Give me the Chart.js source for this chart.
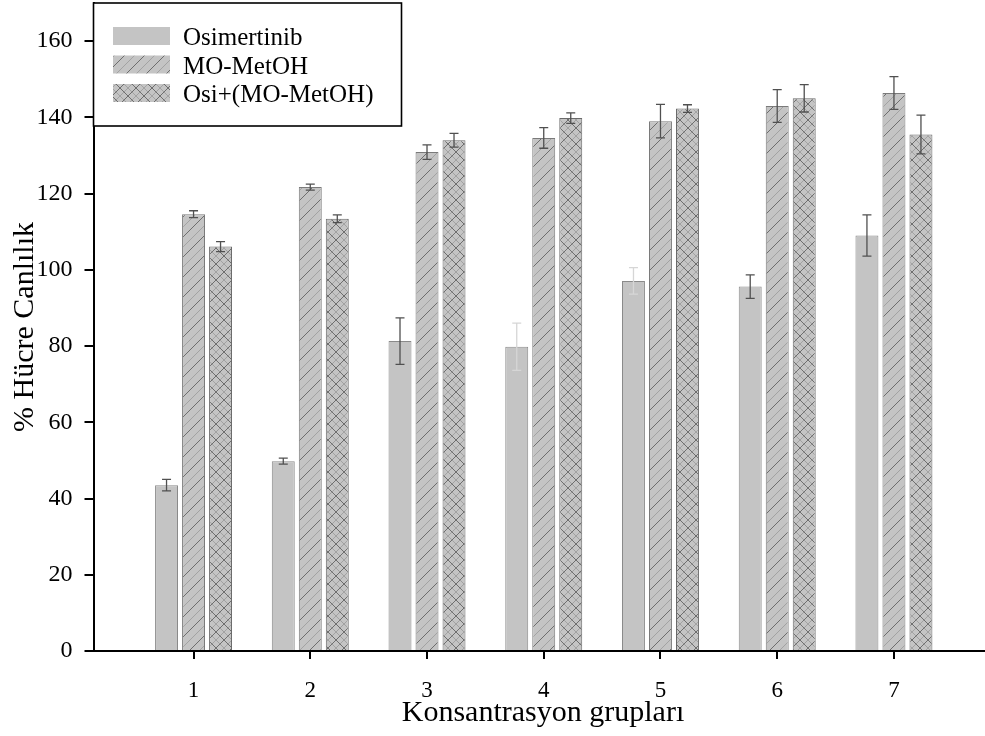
<!DOCTYPE html>
<html>
<head>
<meta charset="utf-8">
<script src="https://cdn.jsdelivr.net/npm/chart.js@4.4.1/dist/chart.umd.min.js"></script>
<style>
  html, body { margin: 0; padding: 0; background: #fff; }
  canvas { display: block; }
</style>
</head>
<body>
<canvas id="viabilityChart" width="985" height="736"></canvas>
<script>
// Group labels and positions on the x axis
const categories = ['1', '2', '3', '4', '5', '6', '7'];
const groupPositions = [1, 2, 3, 4, 5, 6, 7];
const yTicks = [0, 20, 40, 60, 80, 100, 120, 140, 160];

// Series values (% viability) and error bars
const seriesNames = ['Osimertinib', 'MO-MetOH', 'Osi+(MO-MetOH)'];
const osiValues = [43.5, 49.8, 81.3, 79.8, 97.1, 95.6, 109.0];
const osiErrors = [1.5, 0.8, 6.1, 6.2, 3.5, 3.1, 5.4];
const moValues = [114.6, 121.7, 130.9, 134.6, 139.0, 143.0, 146.4];
const moErrors = [0.9, 0.8, 1.9, 2.7, 4.4, 4.3, 4.3];
const comboValues = [106.1, 113.4, 134.0, 139.8, 142.3, 145.0, 135.5];
const comboErrors = [1.3, 1.0, 1.8, 1.4, 1.0, 3.6, 5.1];

const FONT = "'Liberation Serif', 'Times New Roman', serif";

// Build hatch fills like the original plot
function makePattern(kind) {
    const s = kind === 'cross' ? 16 : 20;
    const c = document.createElement('canvas');
    c.width = s;
    c.height = s;
    const ctx = c.getContext('2d');
    ctx.fillStyle = '#c4c4c4';
    ctx.fillRect(0, 0, s, s);
    if (kind === 'solid') return ctx.createPattern(c, 'repeat');

    function diag(up, offset, color) {
        ctx.strokeStyle = color;
        ctx.lineWidth = 1;
        ctx.beginPath();
        for (let k = -1; k <= 1; k++) {
            const o = offset + k * s;
            if (up) {
                ctx.moveTo(o, s);
                ctx.lineTo(o + s, 0);
            } else {
                ctx.moveTo(o, 0);
                ctx.lineTo(o + s, s);
            }
        }
        ctx.stroke();
    }
    diag(true, 0, '#6e6e6e');
    diag(true, s / 2, '#a2a2a2');
    if (kind === 'cross') {
        diag(false, 0, '#6e6e6e');
        diag(false, s / 2, '#a2a2a2');
    }
    return ctx.createPattern(c, 'repeat');
}

const fills = [makePattern('solid'), makePattern('diag'), makePattern('cross')];
const borders = ['#8a8a8a', '#7a7a7a', '#6a6a6a'];
const errorSets = [osiErrors, moErrors, comboErrors];

function points(values) {
    return values.map((v, i) => ({ x: groupPositions[i], y: v }));
}

// Error bars with caps
const errorBarPlugin = {
    id: 'errorBars',
    afterDatasetsDraw(chart) {
        const ctx = chart.ctx;
        const yScale = chart.scales.y;
        ctx.save();
        chart.data.datasets.forEach((ds, di) => {
            const meta = chart.getDatasetMeta(di);
            const errs = errorSets[di];
            meta.data.forEach((bar, i) => {
                const v = ds.data[i].y;
                const yTop = yScale.getPixelForValue(v + errs[i]);
                const yBot = yScale.getPixelForValue(v - errs[i]);
                const faint = di === 0 && (i === 3 || i === 4);
                ctx.strokeStyle = faint ? '#d6d6d6' : '#505050';
                ctx.lineWidth = 1.3;
                ctx.beginPath();
                ctx.moveTo(bar.x, yTop);
                ctx.lineTo(bar.x, yBot);
                ctx.moveTo(bar.x - 4.5, yTop);
                ctx.lineTo(bar.x + 4.5, yTop);
                ctx.moveTo(bar.x - 4.5, yBot);
                ctx.lineTo(bar.x + 4.5, yBot);
                ctx.stroke();
            });
        });
        ctx.restore();
    }
};

// Boxed legend in the upper left and axis titles
const legendAndTitles = {
    id: 'legendAndTitles',
    afterDraw(chart) {
        const ctx = chart.ctx;
        const area = chart.chartArea;
        ctx.save();

        const bx = area.left, by = 3, bw = 308, bh = 123;
        ctx.fillStyle = '#fff';
        ctx.fillRect(bx, by, bw, bh);
        ctx.strokeStyle = '#000';
        ctx.lineWidth = 1.6;
        ctx.strokeRect(bx, by, bw, bh);

        ctx.font = '25px ' + FONT;
        ctx.textBaseline = 'alphabetic';
        ctx.textAlign = 'left';
        seriesNames.forEach((name, i) => {
            const ry = 27 + i * 28.5;
            ctx.fillStyle = fills[i];
            ctx.fillRect(113, ry, 57, 18);
            ctx.fillStyle = '#000';
            ctx.fillText(name, 183, ry + 18);
        });

        ctx.font = '30px ' + FONT;
        ctx.fillStyle = '#000';
        ctx.textAlign = 'center';
        ctx.textBaseline = 'alphabetic';
        ctx.fillText('Konsantrasyon grupları', 543, 721);

        ctx.translate(33, (area.top + area.bottom) / 2);
        ctx.rotate(-Math.PI / 2);
        ctx.fillText('% Hücre Canlılık', 0, 0);
        ctx.restore();
    }
};

new Chart(document.getElementById('viabilityChart'), {
    type: 'bar',
    data: {
        datasets: seriesNames.map((name, i) => ({
            label: name,
            data: points([osiValues, moValues, comboValues][i]),
            backgroundColor: fills[i],
            borderColor: borders[i],
            borderWidth: 1,
            categoryPercentage: 0.694,
            barPercentage: 0.85
        }))
    },
    options: {
        responsive: false,
        animation: false,
        layout: { padding: { top: 3, right: 0, left: 0, bottom: 0 } },
        plugins: {
            legend: { display: false },
            tooltip: { enabled: false }
        },
        scales: {
            x: {
                type: 'linear',
                offset: false,
                min: 0.143,
                max: 7.78,
                afterBuildTicks: (scale) => {
                    scale.ticks = groupPositions.map(v => ({ value: v }));
                },
                afterFit: (scale) => {
                    scale.height = 85;
                    scale.paddingLeft = 0;
                    scale.paddingRight = 0;
                },
                ticks: {
                    callback: (value) => categories[groupPositions.indexOf(value)] ?? '',
                    color: '#000',
                    font: { family: FONT, size: 23 },
                    padding: 18,
                    maxRotation: 0
                },
                grid: {
                    offset: false,
                    drawOnChartArea: false,
                    drawTicks: true,
                    tickLength: 8,
                    tickColor: '#000',
                    lineWidth: 2
                },
                border: { display: true, color: '#000', width: 2 }
            },
            y: {
                min: 0,
                max: 170,
                afterBuildTicks: (scale) => {
                    scale.ticks = yTicks.map(v => ({ value: v }));
                },
                afterFit: (scale) => {
                    scale.width = 93.5;
                    scale.paddingTop = 0;
                    scale.paddingBottom = 0;
                },
                ticks: {
                    color: '#000',
                    font: { family: FONT, size: 24 },
                    padding: 12
                },
                grid: {
                    drawOnChartArea: false,
                    drawTicks: true,
                    tickLength: 9,
                    tickColor: '#000',
                    lineWidth: 2
                },
                border: { display: true, color: '#000', width: 2 }
            }
        }
    },
    plugins: [errorBarPlugin, legendAndTitles]
});
</script>
</body>
</html>
